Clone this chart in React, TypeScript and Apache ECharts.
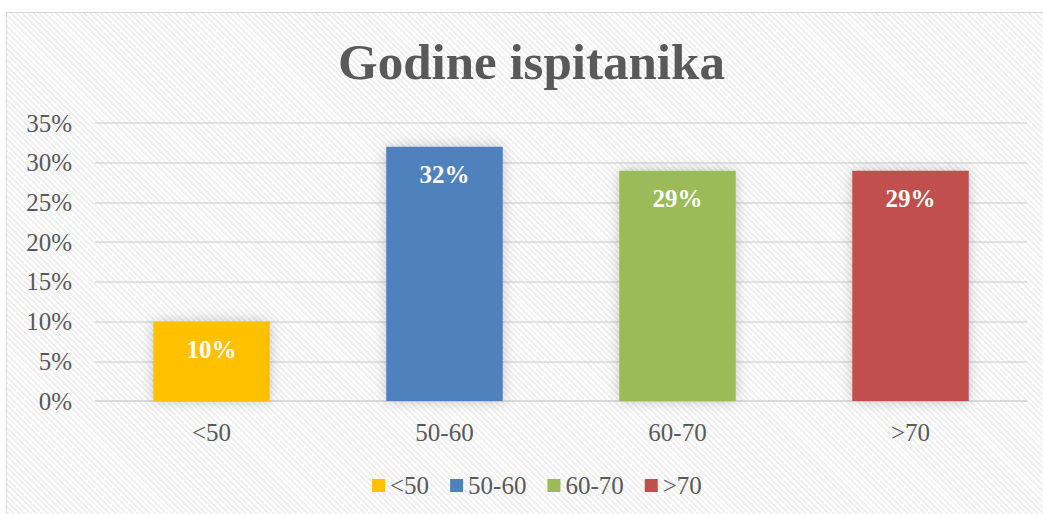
import React, { useEffect, useRef } from "react";
import * as echarts from "echarts";

const title = "Godine ispitanika";
const categories = ["<50", "50-60", "60-70", ">70"];
const values = [10, 32, 29, 29];
const colors = ["#FFC000", "#4F81BD", "#9BBB59", "#C0504D"];
const yTicks = { min: 0, max: 35, interval: 5 };

const FONT = "'Liberation Serif', 'Times New Roman', serif";

export default function App() {
  const ref = useRef<HTMLDivElement>(null);
  useEffect(() => {
    if (!ref.current) return;
    const chart = echarts.init(ref.current, null, { renderer: "svg" });
    const series = categories.map((name, i) => ({
      name,
      type: "bar",
      stack: "all",
      barWidth: "50%",
      data: values.map((v, j) => (j === i ? v : "-")),
      itemStyle: {
        color: colors[i],
        shadowBlur: 14,
        shadowColor: "rgba(0,0,0,0.22)",
      },
      label: {
        show: true,
        position: "insideTop",
        distance: 15,
        formatter: "{c}%",
        color: "#ffffff",
        fontFamily: FONT,
        fontWeight: "bold",
        fontSize: 25,
      },
    }));
    chart.setOption({
      animation: false,
      backgroundColor: "transparent",
      title: {
        text: title,
        left: 333,
        top: 31,
        textStyle: {
          fontFamily: FONT,
          fontWeight: "bold",
          fontSize: 51,
          color: "#595959",
        },
      },
      grid: { left: 95, right: 16, top: 123, bottom: 113, containLabel: false },
      legend: {
        left: 367,
        top: 468,
        icon: "rect",
        itemWidth: 13,
        itemHeight: 13,
        itemGap: 21,
        textStyle: { fontFamily: FONT, fontSize: 25, color: "#595959" },
        data: categories,
      },
      xAxis: {
        type: "category",
        data: categories,
        axisLine: { show: true, lineStyle: { color: "#d9d9d9", width: 1.5 } },
        axisTick: { show: false },
        axisLabel: {
          fontFamily: FONT,
          fontSize: 25,
          color: "#595959",
          margin: 19,
        },
      },
      yAxis: {
        type: "value",
        min: yTicks.min,
        max: yTicks.max,
        interval: yTicks.interval,
        axisLine: { show: false },
        axisTick: { show: false },
        splitLine: { lineStyle: { color: "#d9d9d9", width: 1.5 } },
        axisLabel: {
          formatter: "{value}%",
          fontFamily: FONT,
          fontSize: 25,
          color: "#595959",
          margin: 23,
        },
      },
      series,
    });
    return () => chart.dispose();
  }, []);
  return (
    <div
      style={{
        position: "fixed",
        left: 0,
        top: 0,
        width: 1043,
        height: 514,
        background: "#ffffff",
        overflow: "hidden",
      }}
    >
      <div
        style={{
          position: "absolute",
          left: 6,
          top: 12,
          width: 1100,
          height: 600,
          border: "1.5px solid #d9d9d9",
          background:
            "repeating-linear-gradient(45deg, #ffffff 0px, #ffffff 2px, #f0f0f0 2px, #f0f0f0 4px)",
        }}
      />
      <div
        ref={ref}
        style={{ position: "absolute", left: 0, top: 0, width: 1043, height: 514 }}
      />
    </div>
  );
}
